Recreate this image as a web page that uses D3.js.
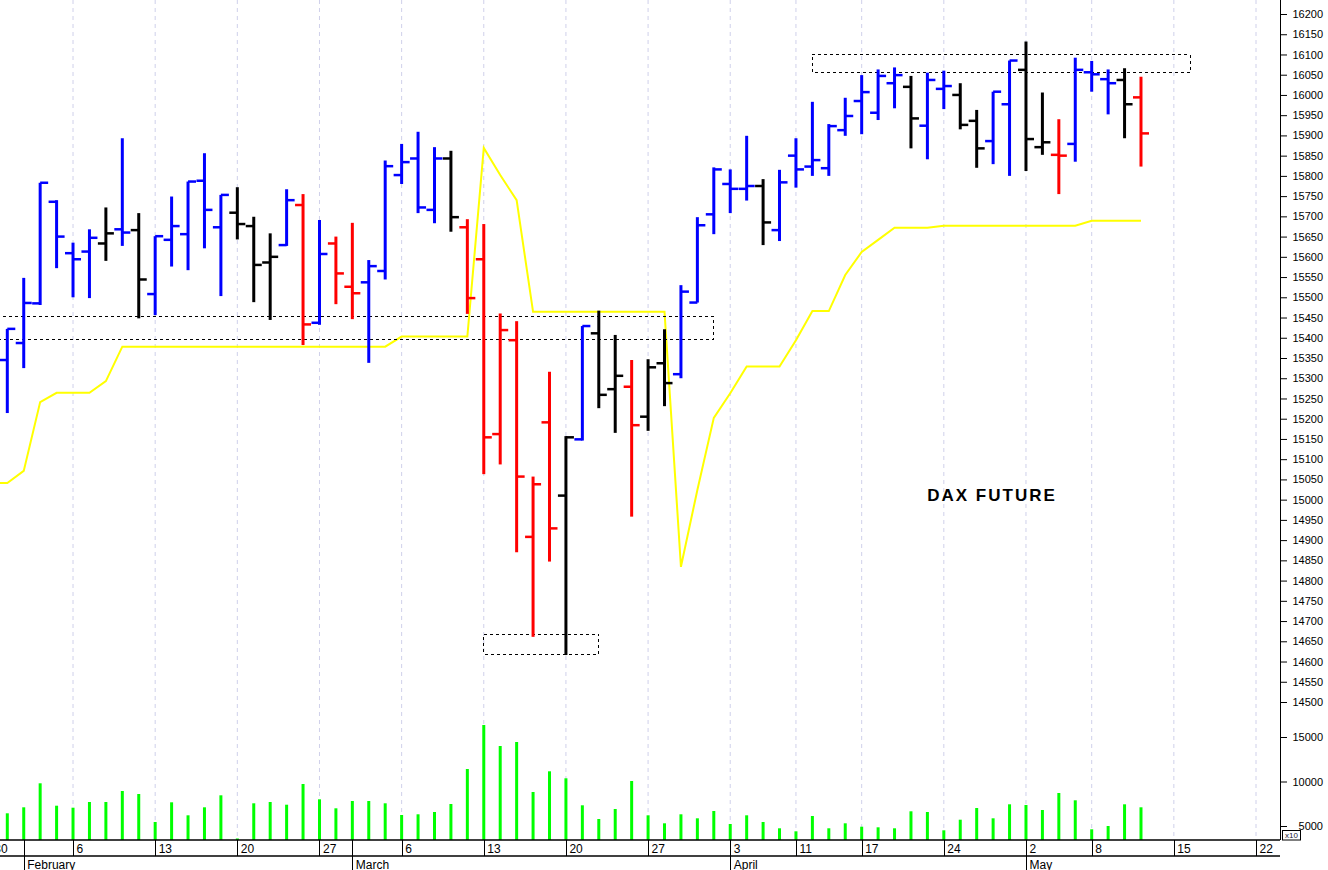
<!DOCTYPE html>
<html><head><meta charset="utf-8">
<script src="https://cdn.jsdelivr.net/npm/d3@7"></script>
<style>
body{margin:0;background:#fff;}
svg{display:block;font-family:"Liberation Sans",Arial,sans-serif;}
</style>
</head><body>
<svg id="c" width="1328" height="870"></svg>
<script>
// ---- categories: trading days (Eurex, 2023) ----
const days = ["2023-01-30","2023-01-31","2023-02-01","2023-02-02","2023-02-03",
"2023-02-06","2023-02-07","2023-02-08","2023-02-09","2023-02-10",
"2023-02-13","2023-02-14","2023-02-15","2023-02-16","2023-02-17",
"2023-02-20","2023-02-21","2023-02-22","2023-02-23","2023-02-24",
"2023-02-27","2023-02-28","2023-03-01","2023-03-02","2023-03-03",
"2023-03-06","2023-03-07","2023-03-08","2023-03-09","2023-03-10",
"2023-03-13","2023-03-14","2023-03-15","2023-03-16","2023-03-17",
"2023-03-20","2023-03-21","2023-03-22","2023-03-23","2023-03-24",
"2023-03-27","2023-03-28","2023-03-29","2023-03-30","2023-03-31",
"2023-04-03","2023-04-04","2023-04-05","2023-04-06",
"2023-04-11","2023-04-12","2023-04-13","2023-04-14",
"2023-04-17","2023-04-18","2023-04-19","2023-04-20","2023-04-21",
"2023-04-24","2023-04-25","2023-04-26","2023-04-27","2023-04-28",
"2023-05-02","2023-05-03","2023-05-04","2023-05-05",
"2023-05-08","2023-05-09","2023-05-10","2023-05-11","2023-05-12",
"2023-05-15","2023-05-16","2023-05-17","2023-05-18","2023-05-19","2023-05-22"];

// ---- series (aligned with days; Jan 30 bar lies off-chart) ----
const open = [null,15345,15387,15485,15736,15609,15613,15633,15668,15666,15508,15642,15656,15788,15673,15709,15676,15586,15629,15728,15437,15633,15526,15537,15565,15802,15843,15716,15843,15673,15594,15162,15394,14908,15191,15010,15149,15411,15273,15279,15205,15337,15310,15487,15705,15780,15768,15775,15666,15850,15823,15819,15913,15985,15956,16029,16020,15924,16015,16000,15936,15886,15977,16062,15871,15852,15879,16056,16039,16037,15994];
const high = [null,15422,15548,15783,15740,15635,15668,15722,15893,15708,15651,15749,15786,15856,15753,15772,15699,15658,15767,15755,15691,15650,15684,15592,15838,15879,15909,15871,15862,15693,15681,15460,15441,15057,15316,15157,15429,15467,15407,15345,15347,15421,15530,15698,15821,15816,15899,15792,15815,15893,15983,15928,15993,16049,16063,16068,16047,16055,16060,16029,15963,16008,16085,16132,16006,15940,16092,16084,16063,16066,16045];
const low = [null,15214,15325,15481,15572,15500,15498,15590,15627,15448,15456,15576,15567,15621,15503,15643,15488,15444,15627,15382,15432,15483,15446,15338,15544,15780,15708,15683,15662,15459,15063,15087,14870,14661,14847,14616,15146,15226,15165,14958,15170,15231,15300,15487,15656,15708,15739,15629,15639,15771,15800,15800,15899,15903,15938,15967,15868,15841,15965,15915,15820,15829,15800,15812,15852,15755,15835,16008,15952,15893,15823];
const close = [null,15422,15486,15783,15650,15594,15647,15658,15660,15544,15651,15676,15786,15716,15753,15681,15580,15600,15740,15433,15607,15559,15510,15577,15824,15834,15722,15843,15698,15498,15154,15419,15057,15038,14929,15154,15429,15259,15306,15184,15327,15288,15514,15678,15816,15768,15775,15685,15784,15816,15839,15923,15948,16007,16047,16049,15942,16037,16022,15926,15868,16008,16085,15891,15883,15850,16062,16051,16029,15977,15905];
// bar colour code: B = blue, K = black, R = red
const barCode = [null,"B","B","B","B","B","B","K","B","K","B",
"B","B","B","B","K","K","K","B","R","B",
"R","R","B","B","B","B","B","K","R","R",
"R","R","R","R","K","B","K","K","R","K",
"K","B","B","B","B","B","K","B","B","B",
"B","B","B","B","B","K","B","B","K","K",
"B","B","K","K","R","B","B","B","K","R"];
// yellow stop line
const stopLine = [15041,15041,15071,15241,15264,15264,15264,15293,15378,15378,15378,15378,15378,15378,15378,15378,15378,15378,15378,15378,15378,15378,15378,15378,15378,15403,15403,15403,15403,15403,15869,15802,15740,15464,15464,15464,15464,15464,15464,15464,15464,15464,14834,15024,15202,15263,15329,15329,15329,15394,15466,15466,15555,15612,15642,15672,15672,15672,15677,15677,15677,15677,15677,15677,15677,15677,15677,15689,15689,15689,15689];
// volume (x10)
const volume = [null,6427,7101,9798,7281,7056,7697,7697,8933,8596,5449,7663,6202,7101,8449,3600,7551,7697,7393,9719,8000,6989,7809,7809,7551,6236,6315,6573,7472,11404,16348,13989,14438,8820,11146,10360,7326,5787,6910,10056,6202,5303,6315,5865,6685,5225,6202,5449,4742,4404,6124,4742,5303,4921,4854,4742,6652,6573,4517,5708,7022,5865,7438,7360,6798,8708,7888,4629,5000,7438,7101];
// dashed zones: start day, end day, low, high
const zoneStart = ["2023-01-30","2023-04-12","2023-03-13"];
const zoneEnd   = ["2023-03-31","2023-05-16","2023-03-22"];
const zoneLow   = [15396,16056,14618];
const zoneHigh  = [15452,16100,14667];
// axis ticks
const priceTicks = d3.range(14500, 16201, 50);
const priceMinor = d3.range(14480, 16240, 10);
const volTicks = [5000,10000,15000];
const volMinor = d3.range(4000, 18001, 1000);
const monthNames = ["January","February","March","April","May","June"];
const chartTitle = "DAX FUTURE";

// ---- layout ----
const W = 1328, H = 870, axisX = 1280, baseY = 840, rowY = 856;
const svg = d3.select("#c");
const parse = d3.timeParse("%Y-%m-%d");

const x = d3.scalePoint().domain(days).range([-9.13, 1256]);
const y = d3.scaleLinear().domain([14500, 16200]).range([702, 14]);
const yv = d3.scaleLinear().domain([5000, 15000]).range([826, 737]);
const colorOf = {B:"#0000ff", K:"#000000", R:"#ff0000"};

const weekStarts = days.filter((d,i)=> i===0 || +d3.timeMonday.floor(parse(d)) !== +d3.timeMonday.floor(parse(days[i-1])));
const monthStarts = days.filter((d,i)=> i>0 && d.slice(5,7) !== days[i-1].slice(5,7));

// gridlines
svg.append("g").selectAll("line").data(weekStarts).join("line")
  .attr("x1", d=>x(d)).attr("x2", d=>x(d)).attr("y1", 0).attr("y2", baseY)
  .attr("stroke", "#cfd0ea").attr("stroke-width", 1).attr("stroke-dasharray", "4,4");

// volume bars
const vi = d3.range(days.length).filter(i => volume[i] != null);
svg.append("g").selectAll("line").data(vi).join("line")
  .attr("x1", i=>x(days[i])).attr("x2", i=>x(days[i]))
  .attr("y1", baseY).attr("y2", i=>yv(volume[i]))
  .attr("stroke", "#00ff00").attr("stroke-width", 3);

// stop line
svg.append("path")
  .attr("d", d3.line().x((v,i)=>x(days[i])).y(v=>y(v))(stopLine))
  .attr("fill", "none").attr("stroke", "#ffff00").attr("stroke-width", 2);

// zones
svg.append("g").selectAll("rect").data(d3.range(zoneStart.length)).join("rect")
  .attr("x", k=>x(zoneStart[k])).attr("width", k=>x(zoneEnd[k]) - x(zoneStart[k]))
  .attr("y", k=>y(zoneHigh[k])).attr("height", k=>y(zoneLow[k]) - y(zoneHigh[k]))
  .attr("fill", "none").attr("stroke", "#000").attr("stroke-width", 1).attr("stroke-dasharray", "3,3")
  .attr("shape-rendering", "crispEdges");

// OHLC bars
const bi = d3.range(days.length).filter(i => open[i] != null);
const bars = svg.append("g").selectAll("g").data(bi).join("g")
  .attr("stroke", i=>colorOf[barCode[i]]);
bars.append("line").attr("x1", i=>x(days[i])).attr("x2", i=>x(days[i]))
  .attr("y1", i=>y(high[i])).attr("y2", i=>y(low[i])).attr("stroke-width", 3);
bars.append("line").attr("x1", i=>x(days[i]) - 8).attr("x2", i=>x(days[i]))
  .attr("y1", i=>y(open[i])).attr("y2", i=>y(open[i])).attr("stroke-width", 2.5);
bars.append("line").attr("x1", i=>x(days[i])).attr("x2", i=>x(days[i]) + 8)
  .attr("y1", i=>y(close[i])).attr("y2", i=>y(close[i])).attr("stroke-width", 2.5);

// title
svg.append("text").attr("x", 992).attr("y", 501).attr("text-anchor", "middle")
  .attr("font-size", 17).attr("font-weight", "bold").attr("letter-spacing", 2)
  .text(chartTitle);

// ---- right axes ----
const gP = svg.append("g").attr("transform", `translate(${axisX},0)`);
gP.call(d3.axisRight(y).tickValues(priceMinor).tickSize(4).tickFormat(""));
gP.call(d3.axisRight(y).tickValues(priceTicks).tickSize(7).tickFormat(d3.format("d")));
const gV = svg.append("g").attr("transform", `translate(${axisX},0)`);
gV.call(d3.axisRight(yv).tickValues(volMinor).tickSize(4).tickFormat(""));
gV.call(d3.axisRight(yv).tickValues(volTicks).tickSize(7).tickFormat(d3.format("d")));
[gP, gV].forEach(g => {
  g.selectAll(".domain").remove();
  g.selectAll("text").attr("x", 43).attr("text-anchor", "end")
    .attr("font-size", 11).attr("fill", "#000").attr("font-family", "'Liberation Sans',Arial,sans-serif");
  g.selectAll(".tick line").attr("stroke", "#000");
});
svg.append("line").attr("x1", axisX).attr("x2", axisX).attr("y1", 0).attr("y2", baseY)
  .attr("stroke", "#000").attr("shape-rendering", "crispEdges");
// x10 box
svg.append("rect").attr("x", 1282.5).attr("y", 830.5).attr("width", 18).attr("height", 9.5)
  .attr("fill", "#fff").attr("stroke", "#000").attr("stroke-width", 1);
svg.append("text").attr("x", 1291.5).attr("y", 838).attr("text-anchor", "middle")
  .attr("font-size", 8).attr("fill", "#223").text("x10");

// ---- bottom axes ----
const gW = svg.append("g").attr("transform", `translate(0,${baseY})`);
gW.call(d3.axisBottom(x).tickValues(weekStarts).tickSize(16).tickFormat(d => String(+d.slice(8))));
gW.selectAll(".domain").remove();
gW.selectAll(".tick line").attr("stroke", "#000").attr("shape-rendering", "crispEdges");
gW.selectAll("text").attr("x", 3).attr("y", 4).attr("dy", "0.71em").attr("text-anchor", "start")
  .attr("font-size", 12).attr("fill", "#000").attr("font-family", "'Liberation Sans',Arial,sans-serif");

const gM = svg.append("g").attr("transform", `translate(0,${baseY})`);
gM.call(d3.axisBottom(x).tickValues(monthStarts).tickSize(30).tickFormat(d => monthNames[+d.slice(5,7) - 1]));
gM.selectAll(".domain").remove();
gM.selectAll(".tick line").attr("stroke", "#000").attr("shape-rendering", "crispEdges");
gM.selectAll("text").attr("x", 3).attr("y", 20).attr("dy", "0.71em").attr("text-anchor", "start")
  .attr("font-size", 12).attr("fill", "#000").attr("font-family", "'Liberation Sans',Arial,sans-serif");

svg.append("line").attr("x1", 0).attr("x2", axisX).attr("y1", baseY).attr("y2", baseY)
  .attr("stroke", "#000").attr("stroke-width", 1.5);
svg.append("line").attr("x1", 0).attr("x2", axisX).attr("y1", rowY).attr("y2", rowY)
  .attr("stroke", "#000").attr("stroke-width", 1.5);
</script>
</body></html>
